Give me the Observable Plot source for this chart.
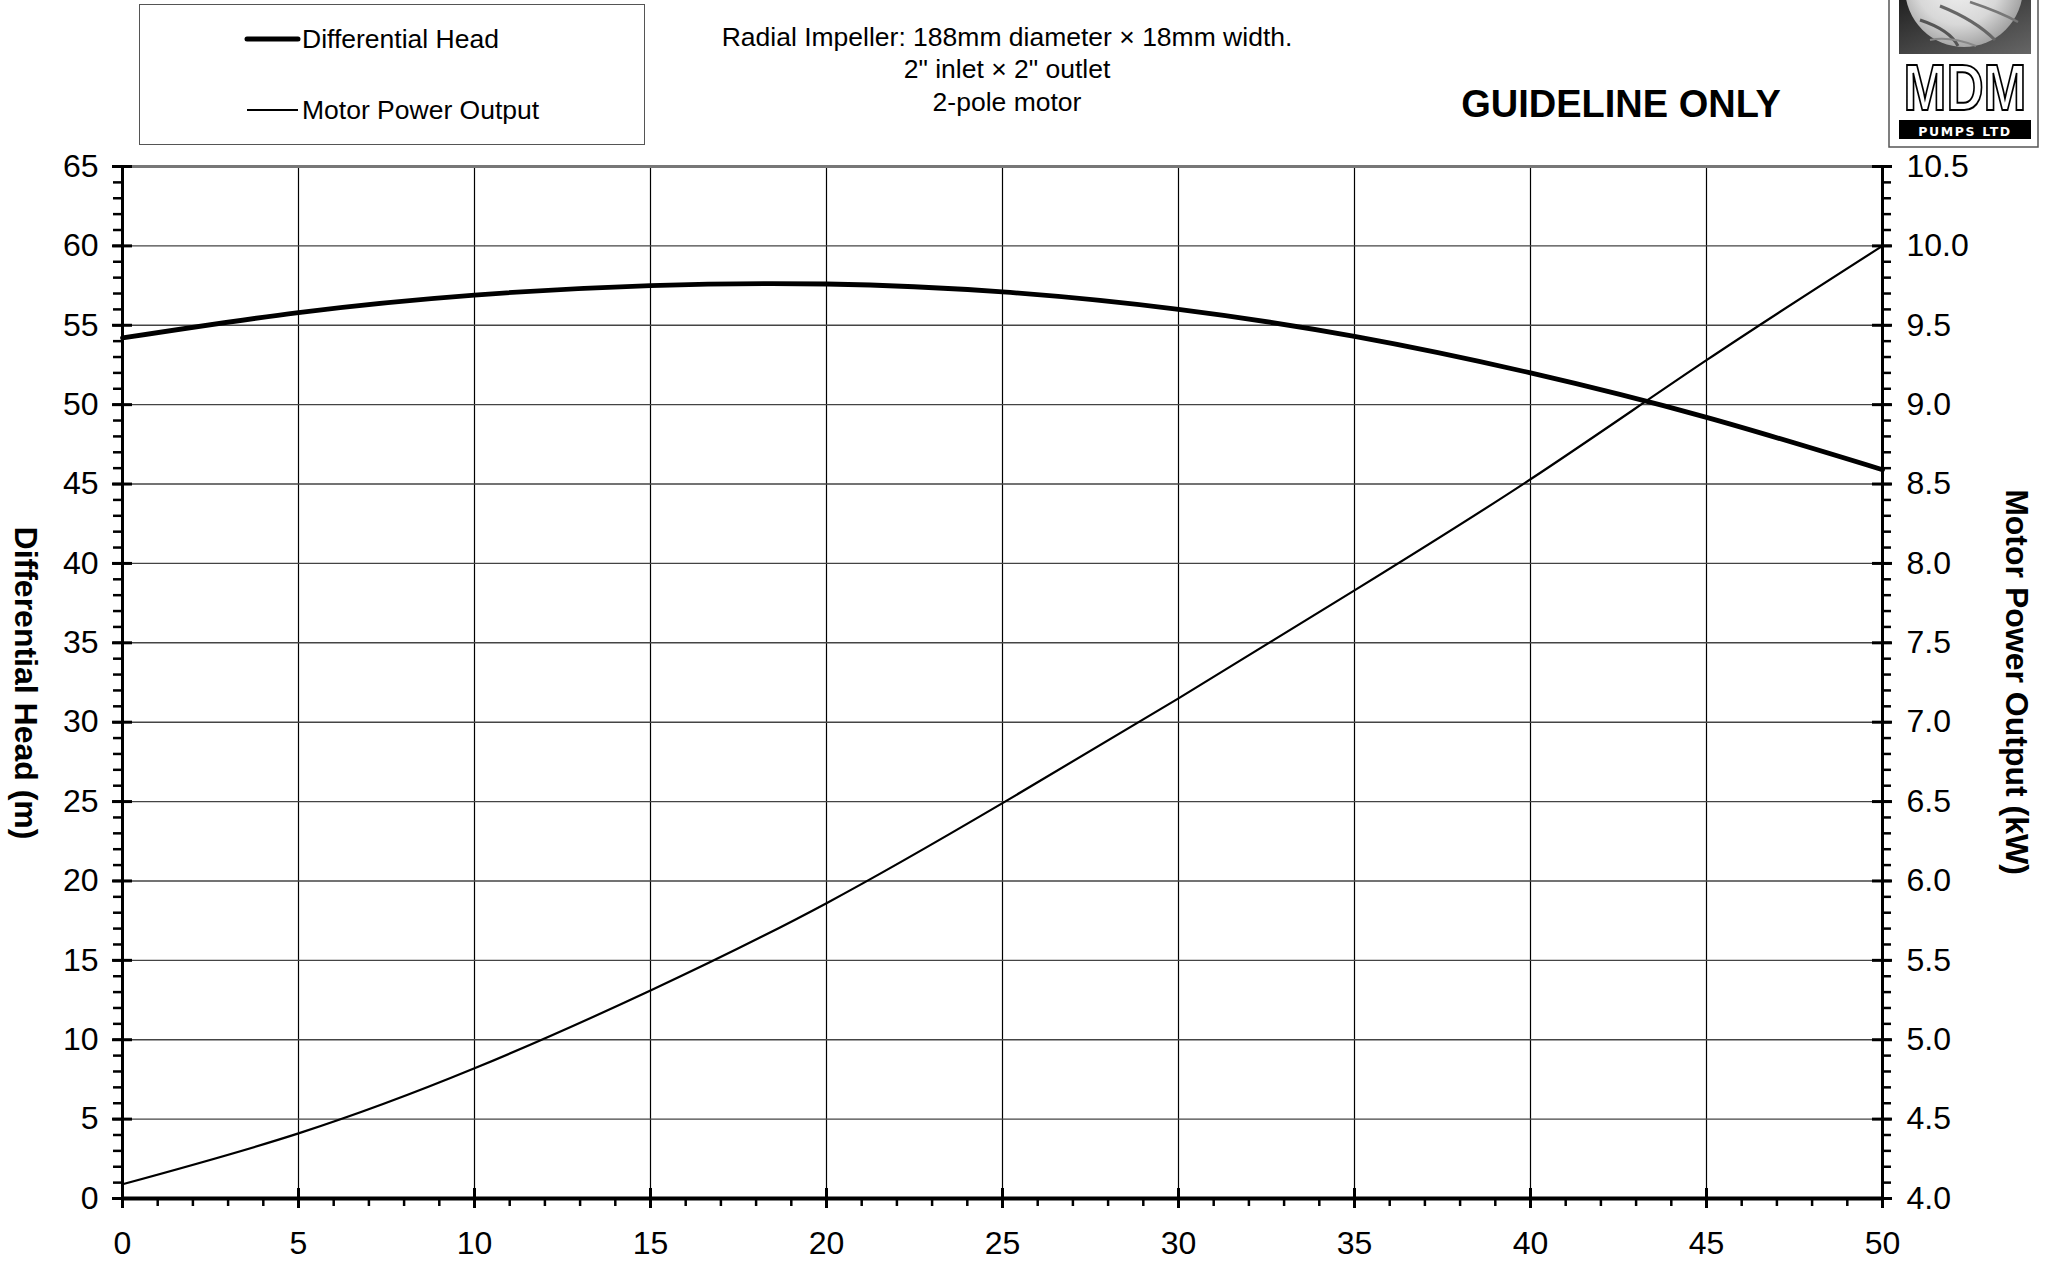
<!DOCTYPE html>
<html>
<head>
<meta charset="utf-8">
<script src="https://cdn.jsdelivr.net/npm/d3@7"></script>
<script src="https://cdn.jsdelivr.net/npm/@observablehq/plot@0.6"></script>
<style>
  body { margin: 0; background: #fff; font-family: "Liberation Sans", Arial, sans-serif; }
  #wrap { position: relative; width: 2051px; height: 1267px; overflow: hidden; background: #fff; }
  #chart { position: absolute; left: 0; top: 0; }
  .t { position: absolute; white-space: nowrap; color: #000; line-height: 1; }
  .c { transform: translate(-50%, -50%); }
</style>
</head>
<body>
<div id="wrap">
  <div id="chart"></div>

  <!-- legend -->
  <div style="position:absolute;left:139px;top:4px;width:504px;height:139px;border:1.5px solid #555;"></div>
  <svg style="position:absolute;left:0;top:0;" width="700" height="150">
    <line x1="247" x2="298" y1="39" y2="39" stroke="#000" stroke-width="5" stroke-linecap="round"/>
    <line x1="247" x2="298" y1="110" y2="110" stroke="#000" stroke-width="2"/>
  </svg>
  <div class="t" style="left:302px;top:39px;font-size:26.5px;transform:translateY(-50%);">Differential Head</div>
  <div class="t" style="left:302px;top:110px;font-size:26.5px;transform:translateY(-50%);">Motor Power Output</div>

  <!-- subtitle -->
  <div class="t c" style="left:1007px;top:37px;font-size:26.5px;">Radial Impeller: 188mm diameter × 18mm width.</div>
  <div class="t c" style="left:1007px;top:69px;font-size:26.5px;">2" inlet × 2" outlet</div>
  <div class="t c" style="left:1007px;top:102px;font-size:26.5px;">2-pole motor</div>

  <div class="t c" style="left:1621px;top:104px;font-size:38px;font-weight:bold;">GUIDELINE ONLY</div>

  <!-- axis titles -->
  <div class="t" style="left:26px;top:683px;font-size:32px;font-weight:bold;transform:translate(-50%,-50%) rotate(90deg);">Differential Head (m)</div>
  <div class="t" style="left:2017px;top:682px;font-size:32px;font-weight:bold;transform:translate(-50%,-50%) rotate(90deg);">Motor Power Output (kW)</div>

  <!-- logo -->
  <svg style="position:absolute;left:1880px;top:0;" width="171" height="160">
    <defs>
      <linearGradient id="bg" x1="0" y1="0" x2="1" y2="1">
        <stop offset="0" stop-color="#222"/>
        <stop offset="1" stop-color="#666"/>
      </linearGradient>
      <radialGradient id="imp" cx="0.45" cy="0.45" r="0.6">
        <stop offset="0" stop-color="#f4f4f4"/>
        <stop offset="0.6" stop-color="#d8d8d8"/>
        <stop offset="1" stop-color="#9a9a9a"/>
      </radialGradient>
      <clipPath id="clipImg"><rect x="19" y="0" width="132" height="54"/></clipPath>
    </defs>
    <rect x="9" y="-2" width="149" height="149" fill="#fff" stroke="#555" stroke-width="1.5"/>
    <g clip-path="url(#clipImg)">
      <rect x="19" y="0" width="132" height="54" fill="url(#bg)"/>
      <circle cx="84" cy="-12" r="59" fill="url(#imp)"/>
      <path d="M40,20 Q70,30 78,46" stroke="#555" stroke-width="3" fill="none"/>
      <path d="M60,6 Q95,20 115,40" stroke="#666" stroke-width="3" fill="none"/>
      <path d="M90,2 Q120,12 138,22" stroke="#777" stroke-width="2.5" fill="none"/>
      <path d="M50,40 Q70,36 96,46" stroke="#888" stroke-width="2" fill="none"/>
    </g>
    <text transform="translate(85,110) scale(0.92,1.15)" text-anchor="middle" font-family="Liberation Sans, Arial" font-weight="bold" font-size="56" fill="#fff" stroke="#000" stroke-width="1.8">MDM</text>
    <rect x="19" y="120" width="132" height="19" fill="#000"/>
    <text x="85" y="136" text-anchor="middle" font-family="DejaVu Sans, Liberation Sans, Arial" font-weight="bold" font-size="12.5" letter-spacing="1.6" fill="#fff">PUMPS LTD</text>
  </svg>
</div>

<script>
// ---- data ----
const flow = [0, 5, 10, 15, 20, 25, 30, 35, 40, 45, 50];
const head = [54.2, 55.8, 56.9, 57.5, 57.6, 57.1, 56.0, 54.3, 52.0, 49.2, 45.9];   // m
const power = [4.09, 4.41, 4.82, 5.31, 5.86, 6.49, 7.15, 7.83, 8.53, 9.28, 10.0];  // kW

const xTicks = [0, 5, 10, 15, 20, 25, 30, 35, 40, 45, 50];
const headTicks = [0, 5, 10, 15, 20, 25, 30, 35, 40, 45, 50, 55, 60, 65];
const powerTicks = ["4.0", "4.5", "5.0", "5.5", "6.0", "6.5", "7.0", "7.5", "8.0", "8.5", "9.0", "9.5", "10.0", "10.5"];
const xMinor = d3.range(0, 51, 1);
const headMinor = d3.range(0, 66, 1);
const powerMinor = d3.range(40, 106, 1).map(d => d / 10);

// power axis (4.0–10.5 kW) shares the plot height with head axis (0–65 m)
const pMin = 4.0, pMax = 10.5, hMax = 65;
const pToH = p => (p - pMin) / (pMax - pMin) * hMax;

const rows = flow.map((f, i) => ({flow: f, head: head[i], power: pToH(power[i])}));

const chart = Plot.plot({
  width: 2051,
  height: 1267,
  marginTop: 166,
  marginBottom: 69,
  marginLeft: 122,
  marginRight: 169,
  style: {fontFamily: "Liberation Sans, Arial, sans-serif", fontSize: "32px", background: "transparent", color: "#000"},
  x: {domain: [0, 50]},
  y: {domain: [0, 65]},
  marks: [
    Plot.gridX(xTicks.slice(1, -1), {stroke: "#000", strokeOpacity: 1, strokeWidth: 1.2}),
    Plot.gridY(headTicks.slice(1, -1), {stroke: "#444", strokeOpacity: 1, strokeWidth: 1.4}),
    Plot.ruleY([65], {x1: 0, x2: 50, stroke: "#777", strokeWidth: 3}),

    Plot.line(rows, {x: "flow", y: "power", curve: "natural", stroke: "#000", strokeWidth: 2.2}),
    Plot.line(rows, {x: "flow", y: "head", curve: "natural", stroke: "#000", strokeWidth: 4.8}),

    // axis lines
    Plot.ruleY([0], {x1: 0, x2: 50, stroke: "#000", strokeWidth: 4}),
    Plot.ruleX([0], {y1: 0, y2: 65, stroke: "#000", strokeWidth: 3}),
    Plot.ruleX([50], {y1: 0, y2: 65, stroke: "#000", strokeWidth: 3}),

    // bottom ticks
    Plot.ruleX(xMinor, {x: d => d, y1: 0, y2: 0, insetBottom: -8, stroke: "#000", strokeWidth: 2.5}),
    Plot.ruleX(xTicks, {x: d => d, y1: 0, y2: 0, insetTop: -10, insetBottom: -10, stroke: "#000", strokeWidth: 3}),
    // left ticks
    Plot.ruleY(headMinor, {y: d => d, x1: 0, x2: 0, insetLeft: -9, stroke: "#000", strokeWidth: 2.5}),
    Plot.ruleY(headTicks, {y: d => d, x1: 0, x2: 0, insetLeft: -10, insetRight: -10, stroke: "#000", strokeWidth: 3}),
    // right ticks
    Plot.ruleY(powerMinor, {y: d => pToH(d), x1: 50, x2: 50, insetRight: -9, stroke: "#000", strokeWidth: 2.5}),
    Plot.ruleY(powerTicks, {y: d => pToH(+d), x1: 50, x2: 50, insetLeft: -10, insetRight: -10, stroke: "#000", strokeWidth: 3}),

    // tick labels
    Plot.axisX(xTicks, {anchor: "bottom", tickSize: 0, tickPadding: 33, label: null, fontSize: 32}),
    Plot.axisY(headTicks, {anchor: "left", tickSize: 0, tickPadding: 24, label: null, fontSize: 32}),
    Plot.axisY(powerTicks.map(d => pToH(+d)), {anchor: "right", tickSize: 0, tickPadding: 24, label: null, fontSize: 32,
      tickFormat: h => powerTicks[Math.round(h / 5)]})
  ]
});
document.getElementById("chart").appendChild(chart);
</script>
</body>
</html>
